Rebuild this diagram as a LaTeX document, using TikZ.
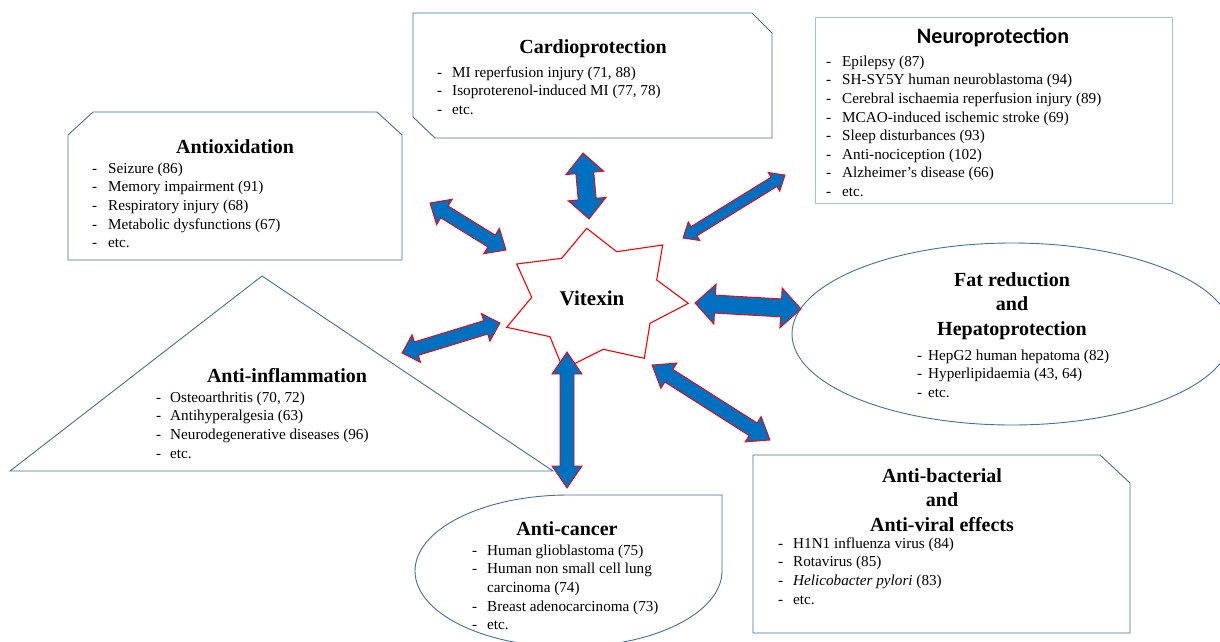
\documentclass[tikz,border=0pt]{standalone}
\usepackage{fontspec}
\setmainfont{Liberation Serif}
\newfontfamily\calibri{Carlito}
\usetikzlibrary{calc}

\definecolor{boxblue}{RGB}{65,113,156}
\definecolor{paleblue}{RGB}{157,195,230}
\definecolor{arrowblue}{RGB}{0,112,192}

\newcommand{\bodyfont}{\fontsize{15.2}{18.6}\selectfont}
\newcommand{\headfont}{\fontsize{20}{24.5}\selectfont\bfseries}
\newcommand{\itm}[2][16pt]{\strut\makebox[#1][l]{-}#2}

% block arrow with a head at both ends, from #1 to #2
% (#3 half shaft, #4 half head, #5 head length)
\newcommand{\dblarrow}[5]{%
  \draw[biarrow] ($(#1)!#5!(#2)!#4!90:(#2)$) -- (#1) -- ($(#1)!#5!(#2)!#4!-90:(#2)$)
    -- ($(#1)!#5!(#2)!#3!-90:(#2)$) -- ($(#2)!#5!(#1)!#3!90:(#1)$)
    -- ($(#2)!#5!(#1)!#4!90:(#1)$) -- (#2) -- ($(#2)!#5!(#1)!#4!-90:(#1)$)
    -- ($(#2)!#5!(#1)!#3!-90:(#1)$) -- ($(#1)!#5!(#2)!#3!90:(#2)$) -- cycle;}

\begin{document}
\begin{tikzpicture}[x=1pt, y=-1pt,
  shapeline/.style={draw=boxblue, line width=0.9pt},
  titletext/.style={font=\headfont, inner sep=0pt, align=center},
  itemlist/.style={font=\bodyfont, align=left, inner sep=0pt, anchor=north west},
  biarrow/.style={fill=arrowblue, draw=red, line width=0.9pt, line join=miter},
  starline/.style={draw=red, line width=1.1pt, line join=miter}]

  \useasboundingbox[fill=white] (0,0) rectangle (1220,642);
  \clip (0,0) rectangle (1220,642);

  % outlines
  \draw[shapeline] (413,13) -- (752,13) -- (772,33) -- (772,138) -- (435,138) -- (413,117) -- cycle;
  \draw[shapeline] (68,135) -- (93,112) -- (377,112) -- (402,135) -- (402,260) -- (68,260) -- cycle;
  \draw[draw=paleblue, line width=0.9pt] (815,17) rectangle (1172,203);
  \draw[shapeline] (10,471) -- (262,276) -- (553,471) -- cycle;
  \draw[shapeline] (1012,334) ellipse [x radius=220, y radius=91];
  \draw[shapeline] (568.5,495) -- (722,495) -- (722,571)
    arc [start angle=0, end angle=270, x radius=153.5, y radius=76] -- cycle;
  \draw[shapeline] (753,455) -- (1100,455) -- (1130,483) -- (1130,633) -- (753,633) -- cycle;

  % centre
  \draw[starline] (586.7,228.3) -- (616.7,251.7) -- (662.7,245) -- (656.7,280) -- (688.3,303.3)
    -- (650,323.3) -- (644.3,358.3) -- (603.3,349.3) -- (563.3,369.3) -- (550,336.7)
    -- (506.7,327.3) -- (531.7,297.3) -- (516.7,264) -- (561.7,258.3) -- cycle;
  \node[font=\fontsize{21}{25}\selectfont\bfseries] (vitexin) at (592,298) {Vitexin};

  \node[titletext] (cardio) at (593,49) {Cardioprotection};
  \node[itemlist] (cardio-list) at (437,64) {\itm[15pt]{MI reperfusion injury (71, 88)}\\
    \itm[15pt]{Isoproterenol-induced MI (77, 78)}\\ \itm[15pt]{etc.}};

  \node[titletext] (antiox) at (235,147) {Antioxidation};
  \node[itemlist] (antiox-list) at (92,160) {\itm{Seizure (86)}\\ \itm{Memory impairment (91)}\\
    \itm{Respiratory injury (68)}\\ \itm{Metabolic dysfunctions (67)}\\ \itm{etc.}};

  \node[titletext, font=\fontsize{22}{26}\selectfont\calibri\bfseries] (neuro) at (993,37) {Neuroprotection};
  \node[itemlist] (neuro-list) at (826,53) {\itm{Epilepsy (87)}\\ \itm{SH-SY5Y human neuroblastoma (94)}\\
    \itm{Cerebral ischaemia reperfusion injury (89)}\\ \itm{MCAO-induced ischemic stroke (69)}\\
    \itm{Sleep disturbances (93)}\\ \itm{Anti-nociception (102)}\\ \itm{Alzheimer’s disease (66)}\\
    \itm{etc.}};

  \node[titletext] (fat) at (1012,306) {Fat reduction\\ and\\ Hepatoprotection};
  \node[itemlist] (fat-list) at (917,347) {\itm[11pt]{HepG2 human hepatoma (82)}\\
    \itm[11pt]{Hyperlipidaemia (43, 64)}\\ \itm[11pt]{etc.}};

  \node[titletext] (inflam) at (287,376) {Anti-inflammation};
  \node[itemlist] (inflam-list) at (156,389) {\itm[14pt]{Osteoarthritis (70, 72)}\\
    \itm[14pt]{Antihyperalgesia (63)}\\ \itm[14pt]{Neurodegenerative diseases (96)}\\ \itm[14pt]{etc.}};

  \node[titletext] (cancer) at (567,529) {Anti-cancer};
  \node[itemlist] (cancer-list) at (472,542) {\itm[15pt]{Human glioblastoma (75)}\\
    \itm[15pt]{Human non small cell lung}\\ \strut\hspace{15pt}carcinoma (74)\\
    \itm[15pt]{Breast adenocarcinoma (73)}\\ \itm[15pt]{etc.}};

  \node[titletext] (bact) at (942,500) {Anti-bacterial\\ and\\ Anti-viral effects};
  \node[itemlist] (bact-list) at (778,535) {\itm[15pt]{H1N1 influenza virus (84)}\\
    \itm[15pt]{Rotavirus (85)}\\ \itm[15pt]{\textit{Helicobacter pylori} (83)}\\ \itm[15pt]{etc.}};

  % arrows between vitexin and the boxes
  \coordinate (antiox-end) at (430,203);   \coordinate (antiox-star) at (506,250);
  \coordinate (cardio-end) at (583,153);   \coordinate (cardio-star) at (589,219);
  \coordinate (neuro-end) at (785,175);    \coordinate (neuro-star) at (683,238);
  \coordinate (fat-star) at (695,303);     \coordinate (fat-end) at (801,309);
  \coordinate (inflam-end) at (402,353);   \coordinate (inflam-star) at (500,323);
  \coordinate (cancer-star) at (567,352);  \coordinate (cancer-end) at (567,488);
  \coordinate (bact-star) at (652,365);    \coordinate (bact-end) at (770,440);

  \dblarrow{antiox-end}{antiox-star}{7pt}{15pt}{17pt}
  \dblarrow{cardio-end}{cardio-star}{9pt}{19pt}{20pt}
  \dblarrow{neuro-end}{neuro-star}{5.5pt}{11pt}{13pt}
  \dblarrow{fat-star}{fat-end}{9pt}{20pt}{20pt}
  \dblarrow{inflam-end}{inflam-star}{7pt}{14.5pt}{15pt}
  \dblarrow{cancer-star}{cancer-end}{7pt}{15pt}{22pt}
  \dblarrow{bact-star}{bact-end}{7.5pt}{15pt}{20pt}

\end{tikzpicture}
\end{document}
